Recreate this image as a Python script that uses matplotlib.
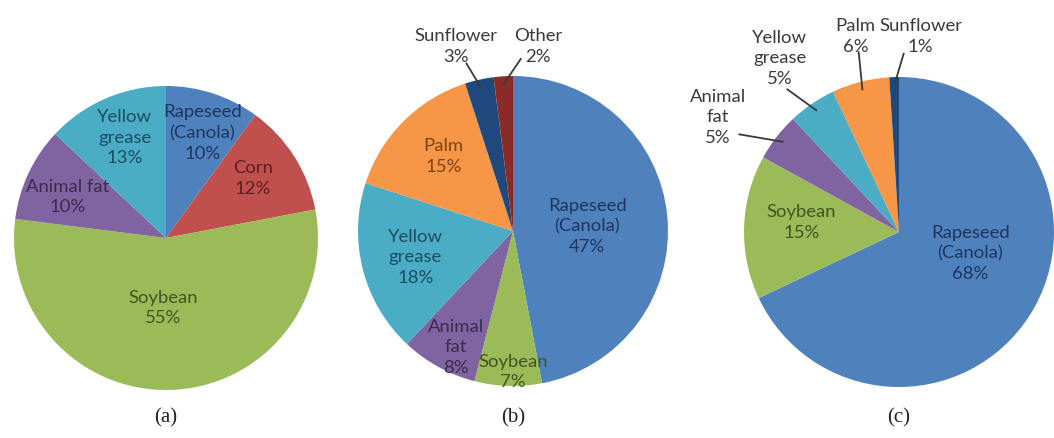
import matplotlib.pyplot as plt
import numpy as np

# Data: three feedstock shares (%), clockwise from 12 o'clock
labels_a = ["Rapeseed\n(Canola)", "Corn", "Soybean", "Animal fat", "Yellow\ngrease"]
values_a = [10, 12, 55, 10, 13]

labels_b = ["Rapeseed\n(Canola)", "Soybean", "Animal\nfat", "Yellow\ngrease", "Palm", "Sunflower", "Other"]
values_b = [47, 7, 8, 18, 15, 3, 2]

labels_c = ["Rapeseed\n(Canola)", "Soybean", "Animal\nfat", "Yellow\ngrease", "Palm", "Sunflower"]
values_c = [68, 15, 5, 5, 6, 1]

captions = ["(a)", "(b)", "(c)"]

# Office-like palette (fill, dark text)
fill = {"Rapeseed": "#4F81BD", "Corn": "#C0504D", "Soybean": "#9BBB59",
        "Animal": "#8064A2", "Yellow": "#4BACC6", "Palm": "#F79646",
        "Sunflower": "#1F497D", "Other": "#8B2B28"}
dark = {"Rapeseed": "#1F3560", "Corn": "#5A1F1E", "Soybean": "#435522",
        "Animal": "#3A2B4C", "Yellow": "#1B4E5E", "Palm": "#7A4216",
        "Sunflower": "#3A3A3A", "Other": "#3A3A3A"}

# layout: pie centres/radii in pixels, label offsets in radius units
W, H = 1054, 438
pies = [
    dict(labels=labels_a, values=values_a, c=(166, 238), r=152,
         pos=[(0.24, 0.69), (0.57, 0.39), (-0.02, -0.46), (-0.65, 0.27), (-0.27, 0.66)],
         lead={}),
    dict(labels=labels_b, values=values_b, c=(513, 231), r=155,
         pos=[(0.48, 0.03), (0.0, -0.91), (-0.37, -0.75), (-0.63, -0.17), (-0.45, 0.48),
              (-0.37, 1.19), (0.16, 1.19)],
         lead={5: (-0.30, 1.08), 6: (0.05, 1.11)}),
    dict(labels=labels_c, values=values_c, c=(899, 232), r=155,
         pos=[(0.46, -0.14), (-0.63, 0.06), (-1.17, 0.74), (-0.77, 1.12), (-0.28, 1.26), (0.14, 1.26)],
         lead={2: (-1.03, 0.63), 3: (-0.72, 0.92), 4: (-0.26, 1.16), 5: (0.03, 1.15)}),
]
outside = {1: [5, 6], 2: [2, 3, 4, 5]}

fig = plt.figure(figsize=(W / 100, H / 100), dpi=100)
ax = fig.add_axes([0, 0, 1, 1])

for i, p in enumerate(pies):
    cx, cy = p["c"][0], H - p["c"][1]
    r = p["r"]
    keys = [lab.split()[0].split("\n")[0] for lab in p["labels"]]
    cols = [fill[k] for k in keys]
    wedges, _ = ax.pie(p["values"], colors=cols, startangle=90, counterclock=False,
                       center=(cx, cy), radius=r, wedgeprops=dict(linewidth=0))
    for j, (lab, v) in enumerate(zip(p["labels"], p["values"])):
        dx, dy = p["pos"][j]
        tc = "#3A3A3A" if j in outside.get(i, []) else dark[keys[j]]
        ax.text(cx + dx * r, cy + dy * r, f"{lab}\n{v}%", ha="center", va="center",
                fontsize=13.3, color=tc, family="Lato", linespacing=1.36)
        if j in p["lead"]:
            w = wedges[j]
            mid = np.radians((w.theta1 + w.theta2) / 2)
            sx, sy = p["lead"][j]
            ax.plot([cx + sx * r, cx + 0.95 * r * np.cos(mid)],
                    [cy + sy * r, cy + 0.95 * r * np.sin(mid)],
                    color="#3A3A3A", linewidth=1.3)
    ax.text(cx, H - 418, captions[i], ha="center", va="center", fontsize=15,
            family="Liberation Serif", color="#222222")

ax.set_xlim(0, W)
ax.set_ylim(0, H)
ax.set_aspect("equal")
ax.axis("off")
fig.savefig("out.png", dpi=100, facecolor="white")
